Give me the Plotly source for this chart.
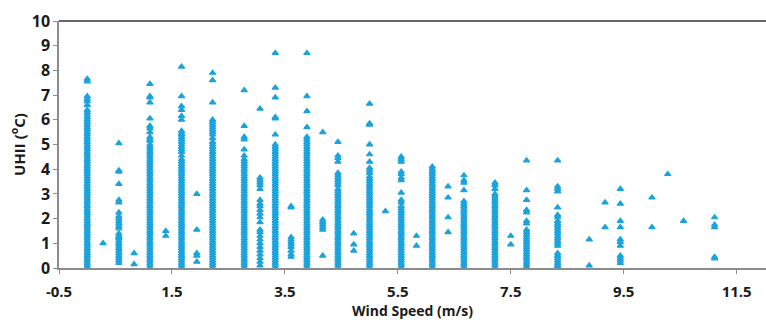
import plotly.graph_objects as go

# Wind speed columns (m/s) and the UHII values (°C) read for each column
wind_speeds = [0.0, 0.28, 0.56, 0.83, 1.11, 1.39, 1.67, 1.94, 2.22, 2.78,
               3.06, 3.33, 3.61, 3.89, 4.17, 4.44, 4.72, 5.0, 5.28, 5.56,
               5.83, 6.11, 6.39, 6.67, 7.22, 7.5, 7.78, 8.33, 8.89, 9.17,
               9.44, 10.0, 10.28, 10.56, 11.11]

uhii_0_00 = [0.0, 0.1, 0.2, 0.3, 0.4, 0.5, 0.6, 0.7, 0.8, 0.9, 1.0, 1.1, 1.2, 1.3, 1.4, 1.5,
             1.6, 1.7, 1.8, 1.9, 2.0, 2.1, 2.2, 2.3, 2.4, 2.5, 2.6, 2.7, 2.8, 2.9, 3.0, 3.1,
             3.2, 3.3, 3.4, 3.5, 3.6, 3.7, 3.8, 3.9, 4.0, 4.1, 4.2, 4.3, 4.4, 4.5, 4.6, 4.7,
             4.8, 4.9, 5.0, 5.1, 5.2, 5.3, 5.4, 5.5, 5.6, 5.7, 5.8, 5.9, 6.0, 6.1, 6.2,
             6.3, 6.4, 6.6, 6.75, 6.85, 6.95, 7.55, 7.65]
uhii_0_28 = [1.0]
uhii_0_56 = [0.2, 0.3, 0.4, 0.5, 0.6, 0.7, 0.8, 0.9, 1.0, 1.1, 1.2, 1.25, 1.3, 1.4, 1.6, 1.7,
             1.8, 1.9, 2.0, 2.1, 2.25, 2.65, 2.75, 3.4, 3.9, 3.95, 5.05]
uhii_0_83 = [0.15, 0.6]
uhii_1_11 = [0.0, 0.1, 0.2, 0.3, 0.4, 0.5, 0.6, 0.7, 0.8, 0.9, 1.0, 1.1, 1.2, 1.3, 1.4, 1.5,
             1.6, 1.7, 1.8, 1.9, 2.0, 2.1, 2.2, 2.3, 2.4, 2.5, 2.6, 2.7, 2.8, 2.9, 3.0, 3.1,
             3.2, 3.3, 3.4, 3.5, 3.6, 3.7, 3.8, 3.9, 4.0, 4.1, 4.2, 4.3, 4.4, 4.5, 4.6, 4.7,
             4.8, 4.9, 5.0, 5.15, 5.2, 5.3, 5.5, 5.65, 5.75, 6.05, 6.7, 6.9, 6.95, 7.45]
uhii_1_39 = [1.3, 1.5]
uhii_1_67 = [0.0, 0.1, 0.2, 0.3, 0.4, 0.5, 0.6, 0.7, 0.8, 0.9, 1.0, 1.1, 1.2, 1.3, 1.4, 1.5,
             1.6, 1.7, 1.8, 1.9, 2.0, 2.1, 2.2, 2.3, 2.4, 2.5, 2.6, 2.7, 2.8, 2.9, 3.0, 3.1,
             3.2, 3.3, 3.4, 3.5, 3.6, 3.7, 3.8, 3.9, 4.0, 4.1, 4.2, 4.3, 4.4, 4.55, 4.7, 4.8,
             4.9, 5.0, 5.1, 5.2, 5.3, 5.4, 5.45, 5.55, 6.0, 6.15, 6.4, 6.55, 6.95, 8.15]
uhii_1_94 = [0.25, 0.5, 0.6, 1.55, 3.0]
uhii_2_22 = [0.0, 0.1, 0.2, 0.3, 0.4, 0.5, 0.6, 0.7, 0.8, 0.9, 1.0, 1.1, 1.2, 1.3, 1.4, 1.5,
             1.6, 1.7, 1.8, 1.9, 2.0, 2.1, 2.2, 2.3, 2.4, 2.5, 2.6, 2.7, 2.8, 2.9, 3.0, 3.1,
             3.2, 3.3, 3.4, 3.5, 3.6, 3.7, 3.8, 3.9, 4.0, 4.1, 4.2, 4.3, 4.4, 4.5, 4.6, 4.7,
             4.8, 4.9, 5.0, 5.1, 5.25, 5.4, 5.5, 5.6, 5.7, 5.8, 5.9, 6.0, 6.7, 7.6, 7.9]
uhii_2_78 = [0.0, 0.1, 0.2, 0.3, 0.4, 0.5, 0.6, 0.7, 0.8, 0.9, 1.0, 1.1, 1.2, 1.3, 1.4, 1.5,
             1.6, 1.7, 1.8, 1.9, 2.0, 2.1, 2.2, 2.3, 2.4, 2.5, 2.6, 2.7, 2.8, 2.9, 3.0, 3.1,
             3.2, 3.3, 3.4, 3.5, 3.6, 3.7, 3.8, 3.9, 4.0, 4.1, 4.2, 4.3, 4.4, 4.55, 4.8,
             5.2, 5.3, 5.75, 7.2]
uhii_3_06 = [0.1, 0.25, 0.4, 0.55, 0.7, 0.85, 1.0, 1.15, 1.3, 1.45, 1.55, 1.85, 2.05, 2.2,
             2.35, 2.5, 2.6, 2.75, 3.2, 3.35, 3.45, 3.55, 3.65, 6.45]
uhii_3_33 = [0.0, 0.1, 0.2, 0.3, 0.4, 0.5, 0.6, 0.7, 0.8, 0.9, 1.0, 1.1, 1.2, 1.3, 1.4, 1.5,
             1.6, 1.7, 1.8, 1.9, 2.0, 2.1, 2.2, 2.3, 2.4, 2.5, 2.6, 2.7, 2.8, 2.9, 3.0, 3.1,
             3.2, 3.3, 3.4, 3.5, 3.6, 3.7, 3.8, 3.9, 4.0, 4.1, 4.2, 4.3, 4.4, 4.5, 4.6, 4.7,
             4.8, 4.9, 5.0, 5.4, 6.05, 6.1, 6.9, 7.3, 8.7]
uhii_3_61 = [0.45, 0.55, 0.7, 0.85, 0.95, 1.05, 1.15, 1.25, 2.45, 2.5]
uhii_3_89 = [0.0, 0.1, 0.2, 0.3, 0.4, 0.5, 0.6, 0.7, 0.8, 0.9, 1.0, 1.1, 1.2, 1.3, 1.4, 1.5,
             1.6, 1.7, 1.8, 1.9, 2.0, 2.1, 2.2, 2.3, 2.4, 2.5, 2.6, 2.7, 2.8, 2.9, 3.0, 3.1,
             3.2, 3.3, 3.4, 3.5, 3.6, 3.7, 3.8, 3.9, 4.0, 4.1, 4.2, 4.3, 4.4, 4.5, 4.6, 4.7,
             4.8, 4.9, 5.0, 5.1, 5.2, 5.3, 5.7, 6.35, 6.95, 8.7]
uhii_4_17 = [0.5, 1.55, 1.65, 1.75, 1.85, 1.95, 5.5]
uhii_4_44 = [0.0, 0.1, 0.2, 0.3, 0.4, 0.5, 0.6, 0.7, 0.8, 0.9, 1.0, 1.1, 1.2, 1.3, 1.4, 1.5,
             1.6, 1.7, 1.8, 1.9, 2.0, 2.1, 2.2, 2.3, 2.4, 2.5, 2.6, 2.7, 2.8, 2.9, 3.0, 3.1,
             3.2, 3.35, 3.45, 3.55, 3.65, 3.75, 3.85, 4.3, 4.45, 4.55, 5.1]
uhii_4_72 = [0.7, 0.95, 1.4]
uhii_5_00 = [0.0, 0.1, 0.2, 0.3, 0.4, 0.5, 0.6, 0.7, 0.8, 0.9, 1.0, 1.1, 1.2, 1.3, 1.4, 1.5,
             1.6, 1.7, 1.8, 1.9, 2.0, 2.1, 2.2, 2.3, 2.4, 2.5, 2.6, 2.7, 2.8, 2.9, 3.0, 3.1,
             3.2, 3.3, 3.4, 3.5, 3.6, 3.7, 3.85, 3.95, 4.05, 4.3, 4.6, 5.0, 5.8, 5.85, 6.65]
uhii_5_28 = [2.3]
uhii_5_56 = [0.0, 0.1, 0.2, 0.3, 0.4, 0.5, 0.6, 0.7, 0.8, 0.9, 1.0, 1.1, 1.2, 1.3, 1.4, 1.5,
             1.6, 1.7, 1.8, 1.9, 2.0, 2.1, 2.2, 2.3, 2.4, 2.5, 2.65, 2.75, 3.05, 3.55, 3.65,
             3.8, 3.9, 4.3, 4.4, 4.5]
uhii_5_83 = [0.9, 1.3]
uhii_6_11 = [0.0, 0.1, 0.2, 0.3, 0.4, 0.5, 0.6, 0.7, 0.8, 0.9, 1.0, 1.1, 1.2, 1.3, 1.4, 1.5,
             1.6, 1.7, 1.8, 1.9, 2.0, 2.1, 2.2, 2.3, 2.4, 2.5, 2.6, 2.7, 2.8, 2.9, 3.0, 3.1,
             3.2, 3.3, 3.4, 3.5, 3.6, 3.7, 3.8, 3.9, 4.0, 4.1]
uhii_6_39 = [1.45, 2.05, 2.85, 3.3]
uhii_6_67 = [0.0, 0.1, 0.2, 0.3, 0.4, 0.5, 0.6, 0.7, 0.8, 0.9, 1.0, 1.1, 1.2, 1.3, 1.4, 1.5,
             1.6, 1.7, 1.8, 1.9, 2.0, 2.1, 2.2, 2.3, 2.4, 2.5, 2.6, 2.7, 3.15, 3.45, 3.55, 3.75]
uhii_7_22 = [0.0, 0.1, 0.2, 0.3, 0.4, 0.5, 0.6, 0.7, 0.8, 0.9, 1.0, 1.1, 1.2, 1.3, 1.4, 1.5,
             1.6, 1.7, 1.8, 1.9, 2.0, 2.1, 2.2, 2.3, 2.4, 2.5, 2.6, 2.7, 2.8, 2.9, 3.0, 3.2,
             3.35, 3.45]
uhii_7_50 = [0.95, 1.3]
uhii_7_78 = [0.05, 0.15, 0.25, 0.35, 0.45, 0.55, 0.65, 0.75, 0.85, 0.95, 1.05, 1.15, 1.25,
             1.35, 1.45, 1.55, 1.8, 1.9, 2.25, 2.35, 2.75, 3.15, 4.35]
uhii_8_33 = [0.05, 0.1, 0.2, 0.3, 0.4, 0.5, 0.6, 0.9, 1.0, 1.1, 1.2, 1.3, 1.4, 1.5, 1.6, 1.7,
             1.8, 1.9, 2.05, 2.15, 2.45, 3.1, 3.2, 3.3, 4.35]
uhii_8_89 = [0.1, 1.15]
uhii_9_17 = [1.65, 2.65]
uhii_9_44 = [0.2, 0.3, 0.4, 0.5, 0.9, 1.05, 1.15, 1.65, 1.9, 2.6, 3.2]
uhii_10_00 = [1.65, 2.85]
uhii_10_28 = [3.8]
uhii_10_56 = [1.9]
uhii_11_11 = [0.38, 0.45, 1.65, 1.75, 2.05]

uhii_columns = [uhii_0_00, uhii_0_28, uhii_0_56, uhii_0_83, uhii_1_11, uhii_1_39, uhii_1_67,
                uhii_1_94, uhii_2_22, uhii_2_78, uhii_3_06, uhii_3_33, uhii_3_61, uhii_3_89,
                uhii_4_17, uhii_4_44, uhii_4_72, uhii_5_00, uhii_5_28, uhii_5_56, uhii_5_83,
                uhii_6_11, uhii_6_39, uhii_6_67, uhii_7_22, uhii_7_50, uhii_7_78, uhii_8_33,
                uhii_8_89, uhii_9_17, uhii_9_44, uhii_10_00, uhii_10_28, uhii_10_56, uhii_11_11]

x_ticks = [-0.5, 1.5, 3.5, 5.5, 7.5, 9.5, 11.5]
y_ticks = [0, 1, 2, 3, 4, 5, 6, 7, 8, 9, 10]

xs, ys = [], []
for ws, col in zip(wind_speeds, uhii_columns):
    for v in col:
        xs.append(ws)
        ys.append(v)

fig = go.Figure()
fig.add_trace(go.Scatter(
    x=xs, y=ys, mode="markers",
    marker=dict(symbol="triangle-up", size=5.5, color="#1AA3DD",
                line=dict(color="#1AA3DD", width=1.2)),
    showlegend=False, hoverinfo="x+y"))

font_family = "Open Sans"
fig.update_layout(
    width=766, height=320,
    margin=dict(l=59, r=0, t=21, b=52, autoexpand=False),
    paper_bgcolor="white", plot_bgcolor="white",
    font=dict(family=font_family, color="#1a1a1a"),
)
fig.update_xaxes(
    range=[-0.5, 12.02], tickvals=x_ticks, ticktext=[str(t) for t in x_ticks],
    automargin=False, ticklabelstandoff=5,
    showgrid=False, zeroline=False, showline=True, linecolor="#8c8c8c", linewidth=1.5,
    ticks="outside", ticklen=4, tickcolor="#8c8c8c",
    tickfont=dict(size=15, family=font_family, weight="bold", color="#1a1a1a"),
    title=dict(text="Wind Speed (m/s)", standoff=8,
               font=dict(size=14, family=font_family, weight="bold", color="#1a1a1a")),
)
fig.update_yaxes(
    range=[0, 10], tickvals=y_ticks, automargin=False,
    showgrid=False, zeroline=False, showline=True, linecolor="#8c8c8c", linewidth=1.5,
    ticks="outside", ticklen=4, tickcolor="#8c8c8c",
    tickfont=dict(size=16, family=font_family, weight="bold", color="#1a1a1a"),
    title=dict(text="UHII (<sup>o</sup>C)", standoff=3,
               font=dict(size=15, family=font_family, weight="bold", color="#1a1a1a")),
)
fig.add_shape(type="line", xref="paper", yref="paper", x0=0, x1=1, y0=1, y1=1,
              line=dict(color="#333333", width=1.5))

fig.write_html("out.html", config={"displayModeBar": False},
               post_script="document.body.style.margin='0';document.body.style.overflow='hidden';")
